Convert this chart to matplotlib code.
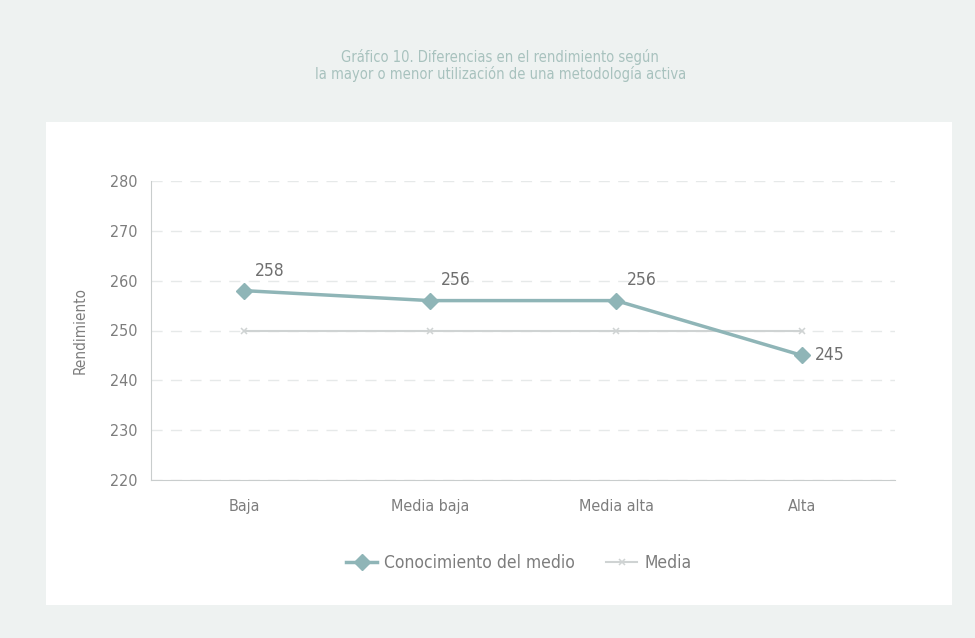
import matplotlib.pyplot as plt
import matplotlib.patches as mpatches
import numpy as np

# Datos
categorias = ["Baja", "Media baja", "Media alta", "Alta"]
conocimiento = [258, 256, 256, 245]
media = [250, 250, 250, 250]
yticks = [220, 230, 240, 250, 260, 270, 280]

TEAL = "#8fb5b7"
GRIS_MEDIA = "#cfd3d3"
TEXTO = "#7d7d7d"
TITULO = "#a8c2be"
FONDO = "#eef2f1"

plt.rcParams.update({
    "font.family": "DejaVu Sans",
    "font.stretch": "condensed",
})

fig = plt.figure(figsize=(9.75, 6.38), dpi=100)
fig.patch.set_facecolor(FONDO)

# panel blanco detrás del gráfico
fig.patches.append(mpatches.Rectangle((46 / 975, 1 - 605 / 638), 906 / 975, 483 / 638,
                                      transform=fig.transFigure, facecolor="white",
                                      edgecolor="none", zorder=-10))

fig.text(0.513, 1 - 57 / 638, "Gráfico 10. Diferencias en el rendimiento según",
         ha="center", va="center", fontsize=10.5, color=TITULO)
fig.text(0.513, 1 - 74 / 638, "la mayor o menor utilización de una metodología activa",
         ha="center", va="center", fontsize=10.5, color=TITULO)

ax = fig.add_axes([151 / 975, 1 - 480 / 638, 744 / 975, 299 / 638])
ax.set_facecolor("none")

x = np.arange(len(categorias))
ax.plot(x, media, color=GRIS_MEDIA, linewidth=1.5, marker="x", markersize=5,
        markeredgewidth=1.1, label="Media", zorder=2)
ax.plot(x, conocimiento, color=TEAL, linewidth=2.5, marker="D", markersize=8,
        label="Conocimiento del medio", zorder=3)

# etiquetas de valor
for xi, v in enumerate(conocimiento):
    if xi == len(conocimiento) - 1:
        ax.annotate(f"{v}", (xi, v), xytext=(9, 0), textcoords="offset points",
                    ha="left", va="center", fontsize=12.5, color="#6f6f6f")
    else:
        ax.annotate(f"{v}", (xi, v), xytext=(8, 8), textcoords="offset points",
                    ha="left", va="bottom", fontsize=12.5, color="#6f6f6f")

ax.set_xlim(-0.5, 3.5)
ax.set_ylim(220, 280)
ax.set_yticks(yticks)
ax.set_xticks(x)
ax.set_xticklabels(categorias)
ax.tick_params(axis="both", length=0, colors=TEXTO, labelsize=11.5)
ax.tick_params(axis="x", pad=14)
ax.tick_params(axis="y", pad=10)
ax.yaxis.grid(True, color="#e6e9e9", linewidth=1.0, linestyle=(0, (8, 6)))
ax.set_axisbelow(True)

for s in ["top", "right"]:
    ax.spines[s].set_visible(False)
ax.spines["left"].set_color("#c9cdcd")
ax.spines["bottom"].set_color("#c9cdcd")

ax.set_ylabel("Rendimiento", color=TEXTO, fontsize=11, labelpad=16)

handles, labels = ax.get_legend_handles_labels()
fig.legend(handles[::-1], labels[::-1], loc="center", bbox_to_anchor=(0.532, 1 - 563 / 638),
           ncol=2, frameon=False, fontsize=12.5, labelcolor=TEXTO, handlelength=1.8,
           handletextpad=0.4, columnspacing=1.8)

fig.savefig("out.png", dpi=100, facecolor=fig.get_facecolor())
